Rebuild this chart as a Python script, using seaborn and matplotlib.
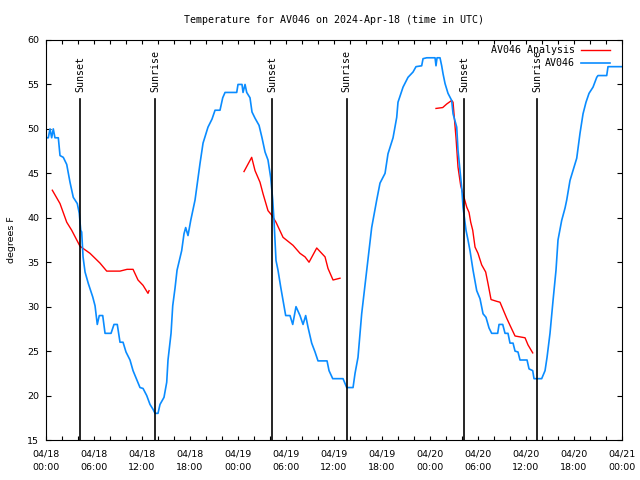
import matplotlib
matplotlib.use("Agg")
import matplotlib.pyplot as plt
import matplotlib.dates as mdates
from matplotlib.lines import Line2D
import numpy as np
import pandas as pd
import seaborn as sns

# ---- data (hours since 2024-04-18 00:00 UTC, temperature in F) ----
obs_hours = [0.06, 0.29, 0.5, 0.71, 0.91, 1.12, 1.54, 1.75, 2.16, 2.59, 3.0, 3.41, 3.91, 4.16, 4.34,
             4.46, 4.63, 4.88, 5.29, 5.84, 6.13, 6.41, 6.66, 7.09, 7.38, 8.13, 8.5, 8.91, 9.25, 9.63,
             10.0, 10.5, 10.88, 11.38, 11.75, 12.13, 12.59, 13.0, 13.38, 13.63, 14.0, 14.25, 14.75,
             15.09, 15.25, 15.63, 15.84, 16.13, 16.38, 16.96, 17.25, 17.46, 17.75, 18.09, 18.63,
             19.25, 19.63, 20.25, 20.75, 21.13, 21.75, 22.09, 22.38, 23.84, 24.0, 24.5, 24.63, 24.88,
             25.09, 25.5, 25.75, 26.13, 26.63, 27.0, 27.38, 27.75, 28.09, 28.34, 28.5, 28.75, 29.0,
             29.34, 29.59, 29.96, 30.5, 30.84, 31.25, 31.75, 32.13, 32.46, 32.75, 33.21, 33.63, 34.0,
             35.13, 35.38, 35.84, 37.13, 37.59, 38.38, 38.63, 39.0, 39.46, 40.09, 40.71, 41.34, 41.75,
             42.38, 42.75, 43.38, 43.84, 44.0, 44.63, 45.25, 45.88, 46.25, 46.96, 47.13, 47.59, 48.63,
             48.75, 48.88, 49.25, 49.46, 49.63, 49.88, 50.25, 50.71, 50.88, 51.34, 51.5, 51.96, 52.13,
             52.5, 52.75, 53.0, 53.38, 53.84, 54.25, 54.63, 55.0, 55.38, 55.71, 56.46, 56.63, 57.09,
             57.38, 57.75, 58.0, 58.38, 58.63, 59.0, 59.25, 60.13, 60.38, 60.84, 61.0, 61.96, 62.38,
             62.63, 63.0, 63.38, 63.75, 64.0, 64.46, 64.88, 65.09, 65.5, 66.34, 66.75, 67.13, 67.5,
             67.88, 68.38, 68.84, 69.0, 70.09, 70.25, 71.96]
obs_temps = [49, 49, 50, 49, 50, 49, 49, 47, 46.8, 46, 44, 42.3, 41.6, 40.5, 38.6,
             38.4, 35.6, 33.9, 32.6, 31.1, 30.1, 28, 29, 29, 27, 27, 28, 28, 26, 26,
             24.9, 24, 22.8, 21.7, 20.9, 20.8, 20, 19, 18.45, 18, 18, 19, 19.8,
             21.5, 24, 27, 30.1, 32.1, 34.1, 36.3, 38.2, 38.9, 38, 39.7, 42,
             46.1, 48.4, 50.2, 51.1, 52.1, 52.1, 53.5, 54.1, 54.1, 55, 55, 54.1, 55,
             54.1, 53.5, 51.9, 51.2, 50.4, 49, 47.4, 46.5, 44.5, 42, 39.7, 35.2, 34.1,
             32.2, 30.9, 29, 29, 28, 30, 29, 28, 29, 27.7, 25.9, 24.9, 23.9,
             23.9, 22.8, 21.9, 21.9, 20.9, 20.9, 22.5, 24.3, 29.2, 34.1, 38.9, 42, 43.9,
             45, 47.2, 49, 51.3, 53, 54.7, 55.8, 56.4, 57, 57.1, 57.9, 58, 58,
             57.1, 58, 58, 57.1, 56.2, 55.1, 54, 53.2, 51.7, 50.2, 47.6, 43.4, 41.2,
             38.6, 37.5, 36.3, 34.1, 31.8, 30.9, 29.2, 28.8, 27.6, 27, 27, 28, 28,
             27, 27, 25.9, 25.9, 25, 24.9, 24, 24, 23, 22.8, 21.9, 21.9, 22.8,
             24.3, 27, 30.7, 34.1, 37.5, 39.7, 41.1, 42, 44.2, 46.7, 49.5, 51.7, 53,
             54, 54.7, 55.8, 56, 56, 57, 57]

ana_hours = [0.79, 1.75, 2.59, 3.21, 4.25, 5.5, 6.75, 7.59, 9.25, 10.13, 10.88, 11.5, 12.13, 12.75, 12.88,
             24.75, 25.71, 26.13, 26.75, 27.13, 27.75, 28.21, 28.75, 29.63, 30.88, 31.75, 32.38, 32.88,
             33.84, 34.88, 35.25, 35.88, 36.75,
             48.75, 49.59, 50.09, 50.71, 50.88, 51.25, 51.5, 51.84, 52.13, 52.59, 52.88, 53.09, 53.34,
             53.63, 54.0, 54.46, 54.96, 55.25, 55.63, 56.34, 56.75, 57.59, 58.0, 58.63, 59.88, 60.25, 60.84]
ana_temps = [43.1, 41.6, 39.5, 38.6, 36.8, 36.0, 34.9, 34.0, 34.0, 34.2, 34.2, 33.0, 32.4, 31.5, 31.8,
             45.2, 46.8, 45.3, 44.0, 42.7, 40.8, 40.3, 39.5, 37.8, 36.9, 36.0, 35.6, 35.0,
             36.6, 35.6, 34.3, 33.0, 33.2,
             52.3, 52.4, 52.8, 53.2, 53.0, 49.0, 45.7, 43.6, 42.7, 41.2, 40.6, 39.5, 38.6,
             36.7, 36.0, 34.7, 33.9, 32.6, 30.8, 30.6, 30.5, 28.7, 27.9, 26.7, 26.5, 25.7, 24.8]
ana_segment = [1] * 15 + [2] * 18 + [3] * 27

sunset_hours = [4.28, 28.29, 52.29]
sunrise_hours = [13.66, 37.58, 61.42]

base = pd.Timestamp("2024-04-18 00:00")
obs = pd.DataFrame({"time": base + pd.to_timedelta(obs_hours, unit="h"), "temp": obs_temps})
ana = pd.DataFrame({"time": base + pd.to_timedelta(ana_hours, unit="h"), "temp": ana_temps,
                    "seg": ana_segment})

RED = "#ff0000"
BLUE = "#0a8cff"
MONO = "DejaVu Sans Mono"

fig = plt.figure(figsize=(6.4, 4.8), dpi=100)
ax = fig.add_axes([46 / 640, 1 - 440 / 480, 576 / 640, 400 / 480])

sns.lineplot(data=ana, x="time", y="temp", units="seg", estimator=None, sort=False,
             color=RED, linewidth=1.0, ax=ax)
sns.lineplot(data=obs, x="time", y="temp", estimator=None, sort=False,
             color=BLUE, linewidth=1.2, ax=ax)

handles = [Line2D([], [], color=RED, linewidth=1.0), Line2D([], [], color=BLUE, linewidth=1.2)]
ax.legend(handles, ["AV046 Analysis", "AV046"], loc="upper right",
          bbox_to_anchor=(0.987, 0.999), frameon=False, markerfirst=False,
          handlelength=2.9, handletextpad=0.6, labelspacing=0.3, borderpad=0,
          prop={"family": MONO, "size": 7.2})

# sunrise / sunset markers
for h in sunset_hours:
    t = base + pd.Timedelta(hours=h)
    ax.plot([t, t], [15, 53.4], color="black", linewidth=1.2)
    ax.text(t, 54.1, "Sunset", rotation=90, ha="center", va="bottom",
            family=MONO, fontsize=7.2)
for h in sunrise_hours:
    t = base + pd.Timedelta(hours=h)
    ax.plot([t, t], [15, 53.4], color="black", linewidth=1.2)
    ax.text(t, 54.1, "Sunrise", rotation=90, ha="center", va="bottom",
            family=MONO, fontsize=7.2)

ax.set_xlim(base, base + pd.Timedelta(hours=72))
ax.set_ylim(15, 60)
ax.set_yticks(np.arange(15, 61, 5))
ax.xaxis.set_major_locator(mdates.HourLocator(byhour=[0, 6, 12, 18]))
ax.xaxis.set_minor_locator(mdates.HourLocator(interval=2))
ax.xaxis.set_major_formatter(mdates.DateFormatter("%m/%d\n%H:%M"))

ax.tick_params(axis="both", which="both", direction="in", top=True, right=True,
               labelsize=6.8, width=0.8)
ax.tick_params(axis="x", which="both", length=3, pad=7)
ax.tick_params(axis="y", which="major", length=3.6, pad=5)
for lab in ax.get_xticklabels():
    lab.set_linespacing(1.6)

ax.set_xlabel("")
ax.set_ylabel("degrees F", fontsize=6.8, labelpad=8)
ax.set_title("Temperature for AV046 on 2024-Apr-18 (time in UTC)", family=MONO,
             fontsize=7.2, pad=12)
for s in ax.spines.values():
    s.set_linewidth(0.8)

fig.savefig("out.png", dpi=100)
